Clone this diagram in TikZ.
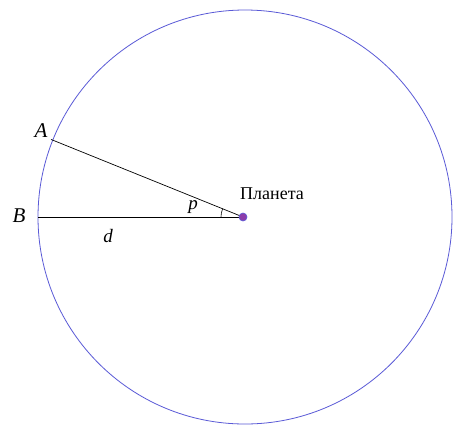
\documentclass[tikz,border=0pt]{standalone}
\usepackage{fontspec}
\setmainfont{Liberation Serif}
\usetikzlibrary{calc}
\definecolor{orbit}{RGB}{90,90,215}
\definecolor{planetfill}{RGB}{140,60,170}
\begin{document}
\begin{tikzpicture}[x=1pt,y=-1pt,
  seg/.style={draw=black,line width=0.7pt},
  lbl/.style={font=\fontsize{21}{21}\selectfont\itshape,inner sep=0pt},
  plabel/.style={font=\fontsize{18}{18}\selectfont,inner sep=0pt}]
\useasboundingbox (0,0) rectangle (454,426);
\clip (0,0) rectangle (454,426);
\fill[white] (0,0) rectangle (454,426);
\draw[orbit,line width=0.8pt] (245,217) circle[radius=207];
\coordinate (O) at (243,217);
\coordinate (A) at ($(O)+(202:207)$);
\coordinate (B) at (38,217);
\draw[seg] (A) -- (O);
\draw[seg] (B) -- (O);
\draw[black,line width=0.6pt] ($(O)+(180:22)$) arc[start angle=180,end angle=202,radius=22];
\node[circle,fill=planetfill,draw=orbit,line width=0.6pt,minimum size=8pt,inner sep=0pt] (P) at (O) {};
\node[lbl] (la) at (41,131) {A};
\node[lbl] (lb) at (19,216) {B};
\node[lbl,font=\fontsize{19}{19}\selectfont\itshape] (ld) at (108,236) {d};
\node[lbl,font=\fontsize{19}{19}\selectfont\itshape] (lp) at (193,207.5) {p};
\node[plabel,anchor=west] (lt) at (240,194) {Планета};
\end{tikzpicture}
\end{document}
